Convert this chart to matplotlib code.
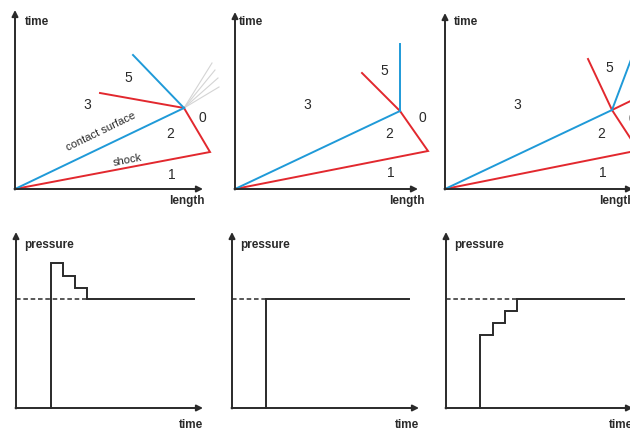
import matplotlib
matplotlib.use("Agg")
import matplotlib.pyplot as plt

plt.rcParams["font.family"] = ["Liberation Sans", "DejaVu Sans"]

W, H = 630, 432
BLUE = "#1f9ad8"
RED = "#e2282e"
INK = "#2a2a2a"
FAN = "#d4d4d4"

# x-t diagrams: (length, time) vertices of each wave path
shock_1 = [(0, 0), (195, 37), (169, 81)]
contact_1 = [(0, 0), (169, 81)]
expansion_1 = [(169, 81), (118, 134)]
reflected_1 = [(169, 81), (85, 96)]
fan_ends_1 = [(197, 126), (200, 119), (203, 111), (204, 102)]

shock_2 = [(0, 0), (193, 38), (165, 78)]
contact_2 = [(0, 0), (165, 78)]
contact_up_2 = [(165, 78), (165, 145)]
reflected_2 = [(165, 78), (127, 116)]

shock_3 = [(0, 0), (200, 40)]
contact_3 = [(0, 0), (167, 79)]
contact_up_3 = [(167, 79), (190, 140)]
reflected_3 = [(143, 130), (167, 79), (195, 36)]
transmitted_3 = [(167, 79), (200, 95)]

region_labels = ["5", "3", "0", "2", "1"]
region_pos_1 = [(113, 111), (72, 84), (187, 71), (155, 55), (157, 14)]
region_pos_2 = [(149, 118), (72, 84), (187, 71), (154, 55), (156, 16)]
region_pos_3 = [(164, 121), (72, 84), (187, 70), (156, 55), (158, 16)]

# pressure histories at the end wall
p_time_1 = [35, 35, 47, 59, 71, 178]
p_val_1 = [0, 145, 132, 120, 109, 109]
p_time_2 = [34, 34, 177]
p_val_2 = [0, 109, 109]
p_time_3 = [34, 34, 47, 59, 71, 178]
p_val_3 = [0, 73, 85, 97, 109, 109]
p_ref = 109
p_ref_end = [71, 34, 71]

fig = plt.figure(figsize=(W / 100, H / 100), dpi=100)


def panel(ox, oy, w=200, h=185):
    ax = fig.add_axes([ox / W, (H - oy) / H, w / W, h / H])
    ax.set_xlim(0, w)
    ax.set_ylim(0, h)
    ax.axis("off")
    return ax


def arrows(ax, x_end, y_end):
    style = dict(arrowstyle="-|>", lw=1.4, color=INK, mutation_scale=9,
                 shrinkA=0, shrinkB=0)
    ax.annotate("", xy=(x_end, 0), xytext=(-0.5, 0), arrowprops=style)
    ax.annotate("", xy=(0, y_end), xytext=(0, -0.5), arrowprops=style)


def path(ax, pts, color, lw=1.4, **kw):
    xs, ys = zip(*pts)
    ax.plot(xs, ys, color=color, lw=lw, solid_joinstyle="miter",
            clip_on=False, **kw)


def label(ax, x, y, s, **kw):
    ax.text(x, y, s, color=INK, clip_on=False, **kw)


top_origins = [(15, 189), (235, 189), (445, 189)]
bottom_origins = [(16, 408), (232, 408), (446, 408)]
top_axes = [panel(x, y) for x, y in top_origins]
bot_axes = [panel(x, y) for x, y in bottom_origins]

# --- x-t diagrams ---
ax1, ax2, ax3 = top_axes
for x, y in fan_ends_1:
    path(ax1, [shock_1[-1], (x, y)], FAN, lw=0.8, zorder=1)
path(ax1, shock_1, RED)
path(ax1, reflected_1, RED)
path(ax1, contact_1, BLUE)
path(ax1, expansion_1, BLUE)
label(ax1, 86, 57, "contact surface", fontsize=8, rotation=26,
      ha="center", va="center", rotation_mode="anchor")
label(ax1, 113, 29, "shock", fontsize=8, rotation=11,
      ha="center", va="center", rotation_mode="anchor")

path(ax2, shock_2, RED)
path(ax2, reflected_2, RED)
path(ax2, contact_2, BLUE)
path(ax2, contact_up_2, BLUE)

path(ax3, shock_3, RED)
path(ax3, reflected_3, RED)
path(ax3, transmitted_3, RED)
path(ax3, contact_3, BLUE)
path(ax3, contact_up_3, BLUE)

for ax, pos in zip(top_axes, [region_pos_1, region_pos_2, region_pos_3]):
    for s, (x, y) in zip(region_labels, pos):
        label(ax, x, y, s, fontsize=10, ha="center", va="center")

arrows(ax1, 188, 179)
arrows(ax2, 183, 177)
arrows(ax3, 188, 176)
label(ax1, 10, 167, "time", fontsize=8.5, fontweight="bold", va="center")
label(ax2, 4, 167, "time", fontsize=8.5, fontweight="bold", va="center")
label(ax3, 9, 167, "time", fontsize=8.5, fontweight="bold", va="center")
for ax in top_axes:
    label(ax, 172, -12, "length", fontsize=8.5, fontweight="bold",
          ha="center", va="center")

# --- pressure histories ---
for ax, t, p, t_end in zip(bot_axes, [p_time_1, p_time_2, p_time_3],
                           [p_val_1, p_val_2, p_val_3], p_ref_end):
    ax.plot([0, t_end], [p_ref, p_ref], color=INK, lw=1.1, ls=(0, (3, 1.8)))
    ax.plot(t, p, color=INK, lw=1.4, drawstyle="steps-post",
            solid_joinstyle="miter", clip_on=False)
    arrows(ax, 187, 176)
    label(ax, 8, 163, "pressure", fontsize=8.5, fontweight="bold",
          va="center")
    label(ax, 175, -17, "time", fontsize=8.5, fontweight="bold",
          ha="center", va="center")

fig.savefig("out.png", dpi=100)
